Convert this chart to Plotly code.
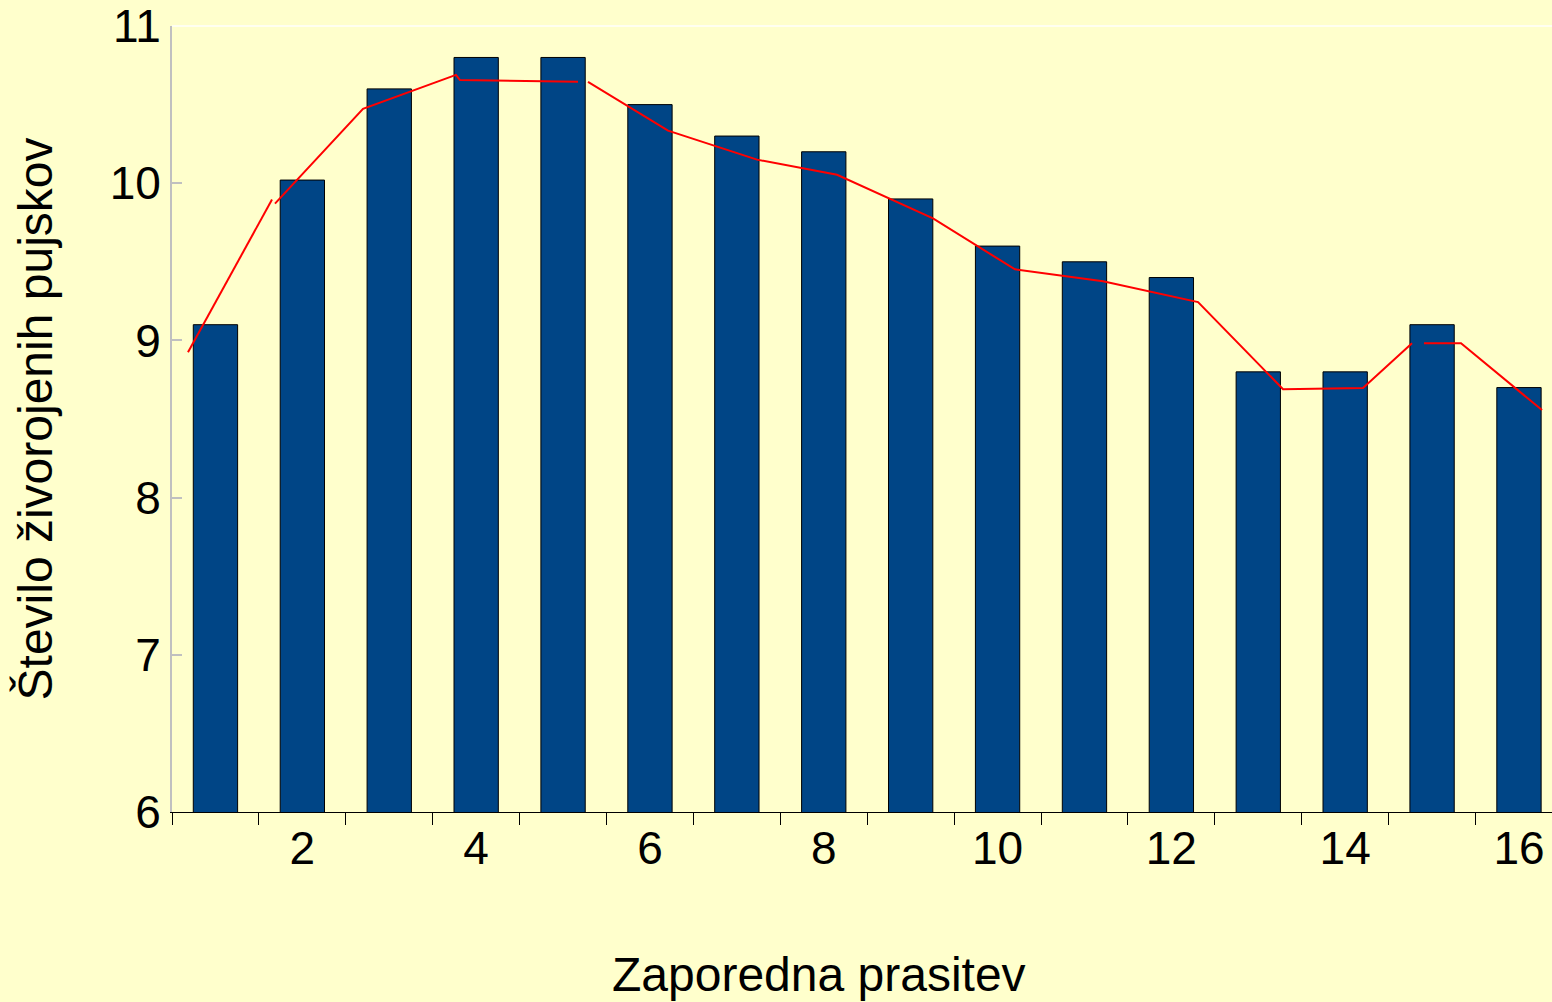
import plotly.graph_objects as go

# Data
categories = list(range(1, 17))
bar_values = [9.1, 10.02, 10.6, 10.8, 10.8, 10.5, 10.3, 10.2, 9.9, 9.6, 9.5, 9.4, 8.8, 8.8, 9.1, 8.7]
trend_x = [0.684, 1.651, None, 1.685, 2.698, 3.768, 3.814, 5.172, None, 5.287, 6.208, 7.232,
           8.153, 9.257, 10.20, 11.213, 12.307, 13.285, 14.205, 14.769, None, 14.907, 15.333, 16.265]
trend_y = [8.925, 9.896, None, 9.870, 10.473, 10.689, 10.656, 10.645, None, 10.645, 10.334, 10.150,
           10.054, 9.776, 9.452, 9.376, 9.244, 8.690, 8.697, 8.982, None, 8.982, 8.982, 8.557]
x_tickvals = [2, 4, 6, 8, 10, 12, 14, 16]
x_ticktext = ["2", "4", "6", "8", "10", "12", "14", "16"]
x_boundaries = [k + 0.5 for k in range(0, 16)]
y_tickvals = [6, 7, 8, 9, 10, 11]
y_ticktext = ["6", "7", "8", "9", "10", "11"]
x_title = "Zaporedna prasitev"
y_title = "Število živorojenih pujskov"

BG = "#FFFFCC"
FONT = "Liberation Sans, Arial, sans-serif"

fig = go.Figure()
fig.add_trace(go.Bar(
    x=categories, y=bar_values, width=0.51,
    marker=dict(color="#004586", line=dict(color="#000000", width=1)),
    showlegend=False, hoverinfo="skip",
))
fig.add_trace(go.Scatter(
    x=trend_x, y=trend_y, mode="lines",
    line=dict(color="#FF0000", width=2),
    connectgaps=False, showlegend=False, hoverinfo="skip",
))

fig.update_layout(
    width=1552, height=1002,
    margin=dict(l=172, r=0, t=24, b=190, pad=0),
    paper_bgcolor=BG, plot_bgcolor=BG,
    font=dict(family=FONT, size=46, color="#000000"),
    bargap=0.49,
    xaxis=dict(
        range=[0.5, 16.38], tickvals=x_tickvals, ticktext=x_ticktext,
        ticks="outside", ticklen=0, tickcolor="rgba(0,0,0,0)",
        minor=dict(tickvals=x_boundaries, ticks="outside", ticklen=12, tickcolor="#000000", tickwidth=1),
        showline=True, linecolor="#000000", linewidth=1,
        showgrid=False, zeroline=False,
        ticklabelstandoff=-4, ticklabeloverflow="allow",
        tickfont=dict(family=FONT, size=46, color="#000000"),
    ),
    yaxis=dict(
        range=[6, 11.0001], tickvals=y_tickvals, ticktext=y_ticktext,
        ticks="inside", ticklen=10, tickcolor="#C0C0C0", tickwidth=2,
        showline=True, linecolor="#C0C0C0", linewidth=2,
        showgrid=False, zeroline=False,
        ticklabelstandoff=0, ticklabeloverflow="allow",
        tickfont=dict(family=FONT, size=46, color="#000000"),
    ),
    shapes=[dict(type="line", xref="paper", yref="paper", x0=0, x1=1, y0=1, y1=1,
                 line=dict(color="#FFFFF0", width=2))],
    annotations=[
        dict(text=x_title, xref="paper", yref="paper", x=0.4685, y=-0.2068,
             xanchor="center", yanchor="middle", showarrow=False,
             font=dict(family=FONT, size=48, color="#000000")),
        dict(text=y_title, xref="paper", yref="paper", x=-0.0986, y=0.5006,
             xanchor="center", yanchor="middle", showarrow=False, textangle=-90,
             font=dict(family=FONT, size=48, color="#000000")),
    ],
)

fig.write_html(
    "out.html",
    config={"displayModeBar": False},
    post_script="document.body.style.margin='0';document.body.style.padding='0';"
                "document.body.style.background='#FFFFCC';document.body.style.overflow='hidden';",
)
